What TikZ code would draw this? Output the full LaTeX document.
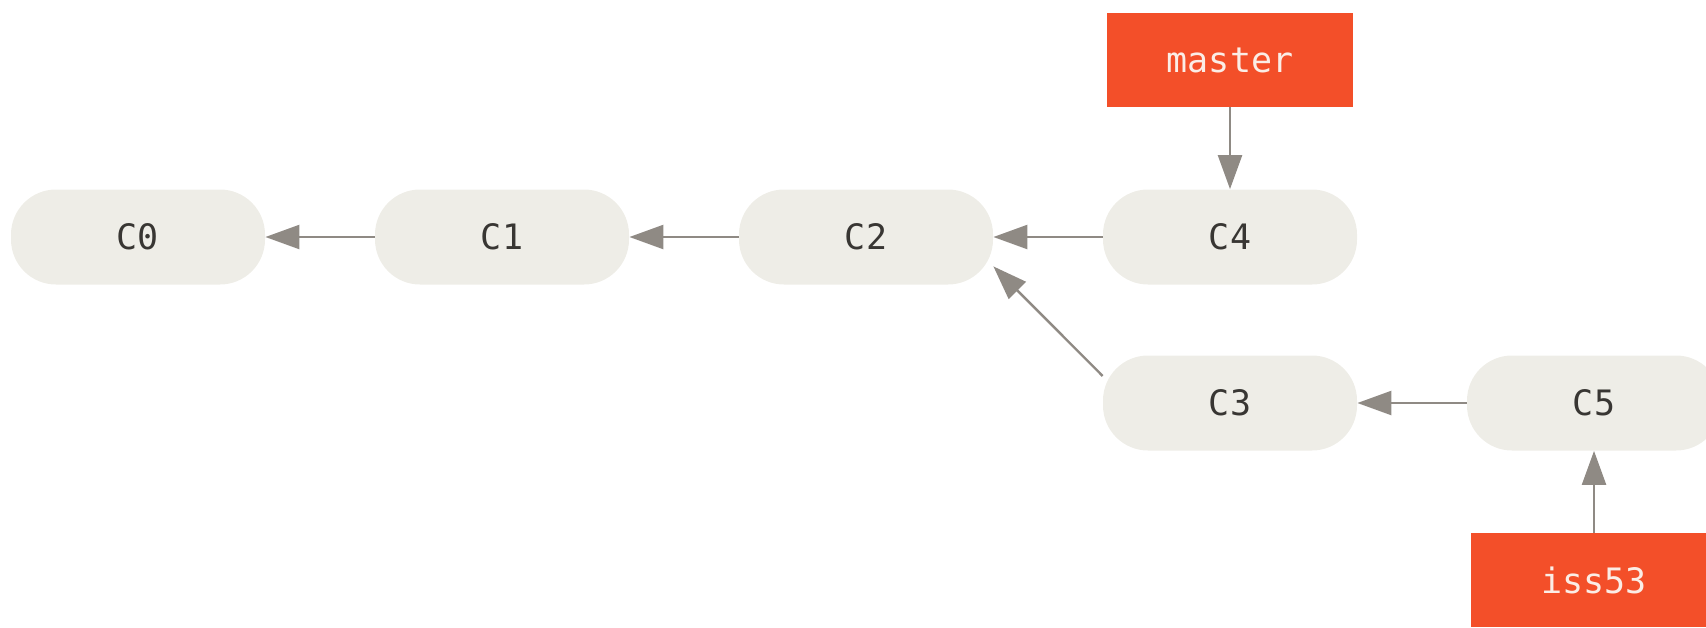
\documentclass[tikz,border=0pt]{standalone}
\usepackage{fontspec}
\setmonofont{DejaVu Sans Mono}
\usetikzlibrary{arrows.meta}
\definecolor{commitfill}{HTML}{EEEDE7}
\definecolor{committext}{HTML}{383633}
\definecolor{branchfill}{HTML}{F34F29}
\definecolor{branchtext}{HTML}{FBEDE6}
\definecolor{arrowcol}{HTML}{8F8A84}
\tikzset{
  commit/.style={fill=commitfill, rounded corners=22.5pt, minimum width=127pt, minimum height=47.5pt,
    inner sep=0pt, text=committext, font=\ttfamily\fontsize{17.5pt}{20pt}\selectfont},
  branch/.style={fill=branchfill, minimum width=123pt, minimum height=47pt, inner sep=0pt,
    text=branchtext, font=\ttfamily\fontsize{17.5pt}{20pt}\selectfont},
  link/.style={draw=arrowcol, line width=1.2pt, -{Triangle[length=17pt,width=12pt]}, color=arrowcol}
}
\begin{document}
\begin{tikzpicture}[x=0.5pt,y=-0.5pt]
\useasboundingbox (0,0) rectangle (1706,627);
\clip (0,0) rectangle (1706,627);
\node[commit] (C0) at (138,237) {C0};
\node[commit] (C1) at (502,237) {C1};
\node[commit] (C2) at (866,237) {C2};
\node[commit] (C4) at (1230,237) {C4};
\node[commit] (C3) at (1230,403) {C3};
\node[commit] (C5) at (1594,403) {C5};
\node[branch] (master) at (1230,60) {master};
\node[branch] (iss53) at (1594,580) {iss53};
\draw[link] (C1.west) -- (C0.east);
\draw[link] (C2.west) -- (C1.east);
\draw[link] (C4.west) -- (C2.east);
\draw[link] (C5.west) -- (C3.east);
\draw[link] (C3.168) -- (C2.-13);
\draw[link] (master.south) -- (C4.north);
\draw[link] (iss53.north) -- (C5.south);
\end{tikzpicture}
\end{document}
